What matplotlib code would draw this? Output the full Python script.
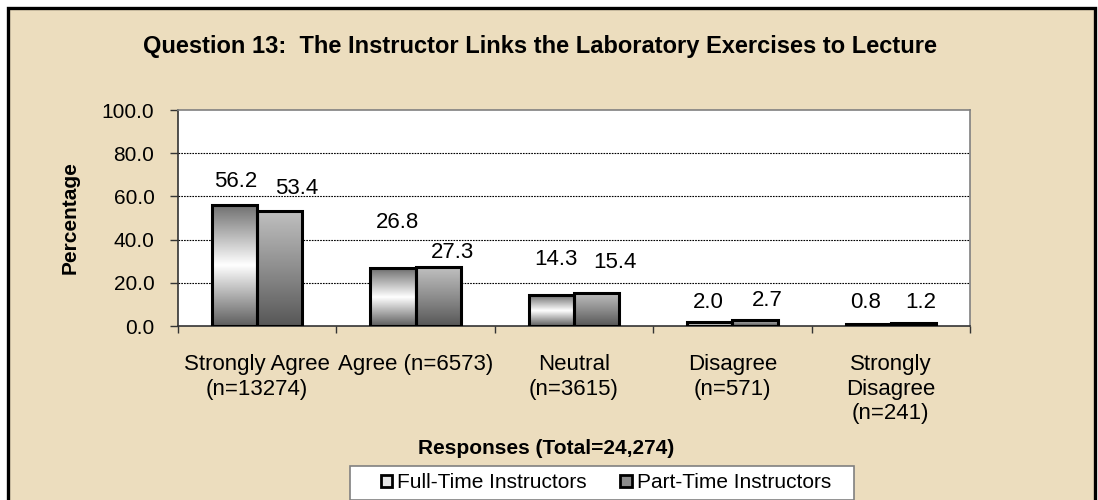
import matplotlib
matplotlib.use("Agg")
import matplotlib.pyplot as plt
import matplotlib.patches as mpatches
from matplotlib.colors import LinearSegmentedColormap
import numpy as np

plt.rcParams['font.family'] = ['Liberation Sans', 'DejaVu Sans']

# data
categories = ['Strongly Agree\n(n=13274)', 'Agree (n=6573)', 'Neutral\n(n=3615)',
              'Disagree\n(n=571)', 'Strongly\nDisagree\n(n=241)']
full_time = [56.2, 26.8, 14.3, 2.0, 0.8]
part_time = [53.4, 27.3, 15.4, 2.7, 1.2]
series_names = ['Full-Time Instructors', 'Part-Time Instructors']
title = 'Question 13:  The Instructor Links the Laboratory Exercises to Lecture'
x_title = 'Responses (Total=24,274)'
y_title = 'Percentage'
y_ticks = [0, 20, 40, 60, 80, 100]

# label nudges in pixels (Excel placed them a bit irregularly)
ft_nudge = [(1, 23), (4, 46), (5, 36), (-2, 19), (-3, 22)]
pt_nudge = [(17, 22), (14, 15), (18, 30), (12, 20), (7, 21)]

parchment = '#ECDDBE'
fs = 15

fig = plt.figure(figsize=(10.98, 5.0), dpi=100, facecolor='white')

# outer frame with parchment fill
frame = mpatches.Rectangle((8 / 1098, -0.02), 1087 / 1098, 1.02 - 8 / 500,
                           transform=fig.transFigure, facecolor=parchment,
                           edgecolor='black', linewidth=2.4, zorder=-5)
fig.patches.append(frame)

ax = fig.add_axes([178 / 1098, 1 - 326 / 500, 792 / 1098, 216 / 500])
ax.set_facecolor('white')
ax.set_zorder(2)

x = np.arange(len(categories))
w = 0.285

ft_cmap = LinearSegmentedColormap.from_list('ft', ['#5e5e5e', '#ffffff', '#6e6e6e'])
pt_cmap = LinearSegmentedColormap.from_list('pt', ['#575757', '#8e8e8e', '#c0c0c0'])
grad = np.linspace(0, 1, 256).reshape(-1, 1)

ft_bars = ax.bar(x - w / 2, full_time, w, facecolor='none', edgecolor='black',
                 linewidth=2.2, zorder=3)
pt_bars = ax.bar(x + w / 2, part_time, w, facecolor='none', edgecolor='black',
                 linewidth=2.2, zorder=3)

for bars, cmap in [(ft_bars, ft_cmap), (pt_bars, pt_cmap)]:
    for b in bars:
        x0, y0 = b.get_x(), b.get_y()
        im = ax.imshow(grad, cmap=cmap, origin='lower', aspect='auto',
                       extent=(x0, x0 + b.get_width(), y0, y0 + b.get_height()),
                       zorder=2, interpolation='bilinear')
        im.set_clip_path(b)

for bars, vals, nudges in [(ft_bars, full_time, ft_nudge), (pt_bars, part_time, pt_nudge)]:
    for b, v, (dx, dy) in zip(bars, vals, nudges):
        ax.annotate(f'{v:.1f}', (b.get_x() + b.get_width() / 2, v),
                    xytext=(dx, dy), textcoords='offset pixels',
                    ha='center', va='center', fontsize=16, zorder=5)

ax.set_xlim(-0.5, len(categories) - 0.5)
ax.set_ylim(0, 100)
ax.set_yticks(y_ticks)
ax.set_yticklabels([f'{t:.1f}' for t in y_ticks], fontsize=fs)
ax.tick_params(axis='y', direction='out', length=6, width=1, pad=11, color='#333333')

ax.set_xticks(np.arange(len(categories) + 1) - 0.5)
ax.set_xticklabels([])
ax.tick_params(axis='x', direction='out', length=5, width=1, color='#333333')
ax.set_xticks(x, minor=True)
ax.set_xticklabels(categories, minor=True, fontsize=16, linespacing=1.24)
ax.tick_params(axis='x', which='minor', length=0, pad=20)

for t in y_ticks[1:-1]:
    ax.axhline(t, color='black', linewidth=0.8, linestyle=(0, (1.5, 1)), zorder=1)

for s in ax.spines.values():
    s.set_color('#808080')
    s.set_linewidth(1.2)
ax.spines['left'].set_color('#333333')
ax.spines['bottom'].set_color('#333333')

ax.set_ylabel(y_title, fontsize=fs, fontweight='bold')
ax.yaxis.set_label_coords((80 - 178) / 792, 0.5)

fig.text(540 / 1098, 1 - 47 / 500, title, ha='center', va='center',
         fontsize=17, fontweight='bold')
fig.text(546 / 1098, 1 - 448 / 500, x_title, ha='center', va='center',
         fontsize=fs, fontweight='bold')

# legend box drawn separately so its width matches the original
legend_box = mpatches.Rectangle((350 / 1098, 1 - 500 / 500), 504 / 1098, 34 / 500,
                                transform=fig.transFigure, facecolor='white',
                                edgecolor='#808080', linewidth=1.2, zorder=3)
fig.patches.append(legend_box)

handles = [mpatches.Patch(facecolor='#e6e6e6', edgecolor='black', linewidth=2),
           mpatches.Patch(facecolor='#8c8c8c', edgecolor='black', linewidth=2)]
leg = fig.legend(handles, series_names, loc='center', ncol=2,
                 bbox_to_anchor=(606 / 1098, 1 - 483 / 500), fontsize=fs,
                 frameon=False, handlelength=0.55, handleheight=0.55,
                 handletextpad=0.25, columnspacing=1.6, borderpad=0.35,
                 borderaxespad=0)
leg.set_zorder(4)

fig.savefig('out.png', dpi=100, facecolor=fig.get_facecolor())
